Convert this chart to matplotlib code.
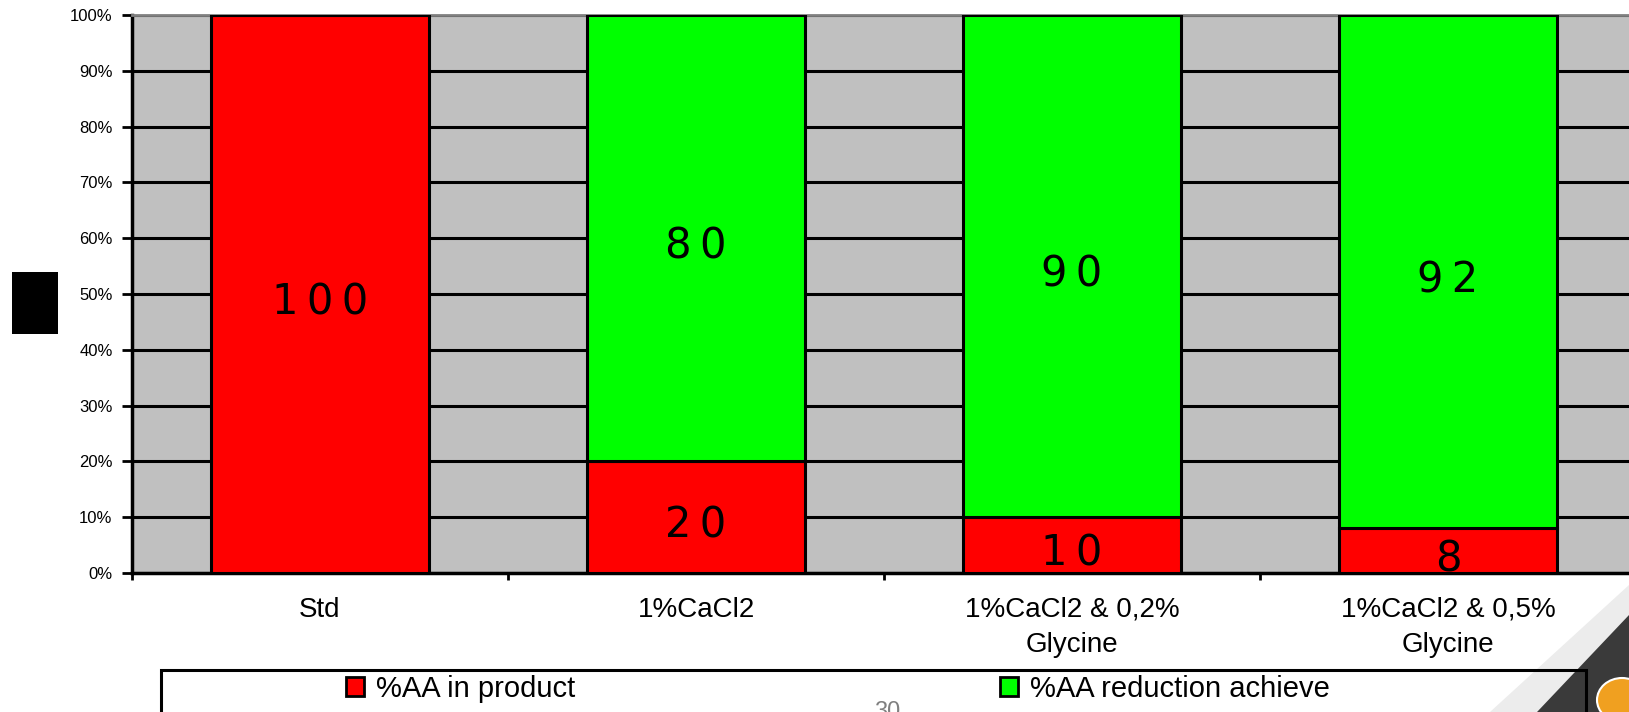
import matplotlib
matplotlib.use("Agg")
import matplotlib.pyplot as plt
from matplotlib.patches import Rectangle, Polygon, Ellipse, Patch

W, H = 1629, 712

categories = ["Std", "1%CaCl2", "1%CaCl2 & 0,2%\nGlycine", "1%CaCl2 & 0,5%\nGlycine"]
aa_in_product = [100, 20, 10, 8]
aa_reduction = [0, 80, 90, 92]
series_names = ["%AA in product", "%AA reduction achieve"]
yticks = list(range(0, 101, 10))

red = "#ff0000"
green = "#00ff00"

fig = plt.figure(figsize=(W / 100, H / 100), dpi=100)

def fx(px):
    return px / W

def fy(py):
    return 1 - py / H

# slide decoration in the lower right corner
fig.patches.append(Polygon([(fx(1490), fy(712)), (fx(1629), fy(585)), (fx(1629), fy(615)),
                            (fx(1537), fy(712))],
                           closed=True, transform=fig.transFigure, facecolor="#ececec",
                           edgecolor="none", zorder=0))
fig.patches.append(Polygon([(fx(1537), fy(712)), (fx(1629), fy(615)), (fx(1629), fy(712))],
                           closed=True, transform=fig.transFigure, facecolor="#3a3a3a",
                           edgecolor="none", zorder=0))
fig.patches.append(Ellipse((fx(1622), fy(700)), fx(50), 44 / H, transform=fig.transFigure,
                           facecolor="#f0a020", edgecolor="white", lw=1.5, zorder=0))

ax = fig.add_axes([fx(132), fy(573), fx(1629 - 132), 558 / H])
ax.set_facecolor("#c0c0c0")

x = list(range(len(categories)))
bw = 0.58
b1 = ax.bar(x, aa_in_product, bw, color=red, edgecolor="black", linewidth=2.2, zorder=3)
b2 = ax.bar(x, aa_reduction, bw, bottom=aa_in_product, color=green, edgecolor="black",
            linewidth=2.2, zorder=3)

# value labels in the middle of each segment, digits letter-spaced
def spaced(v):
    return "\u2009".join(str(v))

for xi, lo, hi in zip(x, aa_in_product, aa_reduction):
    for bottom, val in ((0, lo), (lo, hi)):
        if val:
            ax.annotate(spaced(val), (xi, bottom + val / 2), xytext=(0, -6),
                        textcoords="offset points", ha="center", va="center",
                        fontsize=30, family="DejaVu Sans", color="black", zorder=4)

ax.set_xlim(-0.5, -0.5 + (1629 - 132) / 376)
ax.set_ylim(0, 100)

ax.set_yticks(yticks)
ax.set_yticklabels([f"{v}%" for v in yticks], fontsize=12, family="Liberation Sans")
ax.tick_params(axis="y", length=7, width=2, pad=7, color="black")
ax.yaxis.grid(True, color="black", lw=2.2, zorder=1)
ax.set_axisbelow(True)

ax.set_xticks(x)
ax.set_xticklabels(categories, fontsize=20, family="Liberation Sans", linespacing=1.45)
ax.set_xticks([i - 0.5 for i in range(len(categories))], minor=True)
ax.tick_params(axis="x", which="major", length=0, pad=17)
ax.tick_params(axis="x", which="minor", length=5, width=2, color="black")

ax.spines["right"].set_visible(False)
ax.spines["top"].set_color("#808080")
ax.spines["top"].set_linewidth(2)
ax.spines["left"].set_linewidth(2.5)
ax.spines["bottom"].set_linewidth(2.5)

# legend box running off the bottom of the slide
fig.patches.append(Rectangle((fx(161), fy(712) - 0.05), fx(1586 - 161), (712 - 670) / H + 0.05,
                             transform=fig.transFigure, fill=False, edgecolor="black",
                             lw=2.2, zorder=2))
handles = [Patch(facecolor=red, edgecolor="black", lw=2),
           Patch(facecolor=green, edgecolor="black", lw=2)]
for h, name, left in zip(handles, series_names, [346, 1000]):
    fig.legend([h], [name], loc="center left", bbox_to_anchor=(fx(left), fy(689)),
               frameon=False, borderpad=0, borderaxespad=0, handlelength=0.62,
               handleheight=0.62, handletextpad=0.4,
               prop={"family": "Liberation Sans", "size": 21})

# hidden axis title block
fig.patches.append(Rectangle((fx(12), fy(334)), fx(46), 62 / H, transform=fig.transFigure,
                             facecolor="black", edgecolor="none"))

fig.text(fx(887), fy(718), "30", ha="center", va="baseline", fontsize=17,
         family="Liberation Sans", color="#808080")

fig.savefig("out.png", dpi=100)
